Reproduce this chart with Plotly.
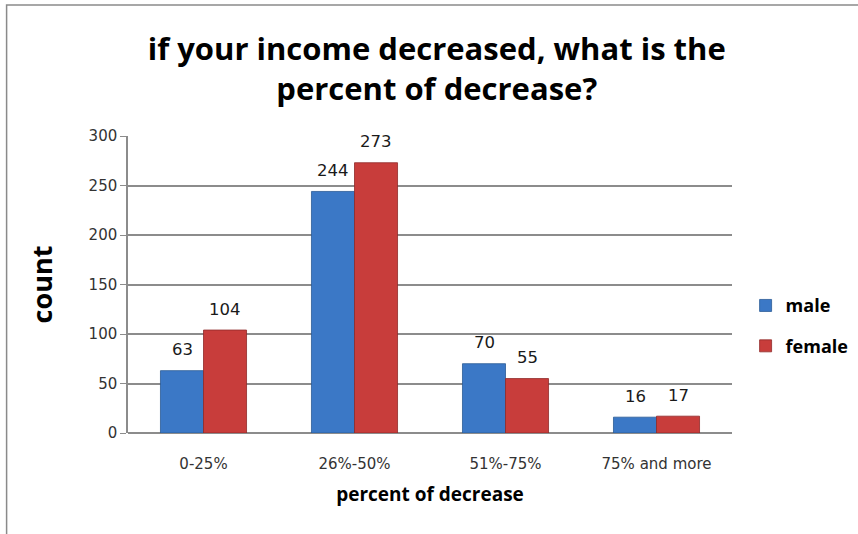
import plotly.graph_objects as go

categories = ["0-25%", "26%-50%", "51%-75%", "75% and more"]
male = [63, 244, 70, 16]
female = [104, 273, 55, 17]
series_names = ["male", "female"]
y_ticks = [0, 50, 100, 150, 200, 250, 300]

TFONT = "Open Sans, Lato, sans-serif"
NFONT = "DejaVu Sans, Verdana, sans-serif"
colors = ["#3b78c6", "#c83d3b"]
lines = ["#2a5a96", "#8f2a28"]

fig = go.Figure()
for name, vals, c, lc in zip(series_names, [male, female], colors, lines):
    fig.add_trace(go.Bar(
        x=categories, y=vals, name=name, legendgroup=name,
        marker=dict(color=c, line=dict(color=lc, width=0.8)),
    ))

# data labels
for i, (name, vals) in enumerate(zip(series_names, [male, female])):
    shift = -21.5 if i == 0 else 21.5
    for cat, v in zip(categories, vals):
        fig.add_annotation(x=cat, y=v, text=str(v), showarrow=False,
                           xshift=shift, yshift=21,
                           font=dict(family=NFONT, size=16.5, color="#1a1a1a"))

fig.add_shape(type="rect", xref="paper", yref="paper",
              x0=-0.201, x1=1.4, y0=-0.6, y1=1.441,
              line=dict(color="#8a8a8a", width=1.5), fillcolor="rgba(0,0,0,0)", layer="below")

fig.update_layout(
    width=858, height=534,
    margin=dict(l=128, r=126, t=136, b=101),
    paper_bgcolor="white", plot_bgcolor="white",
    barmode="group", bargap=0.43, bargroupgap=0,
    title=dict(text="if your income decreased, what is the<br>percent of decrease?",
               x=0.509, xref="container", xanchor="center", y=0.888, yanchor="middle",
               font=dict(family=TFONT, size=31, color="black", weight="bold")),
    font=dict(family=NFONT, color="#333333"),
    legend=dict(x=0.869, y=0.39, xref="container", yref="container",
                xanchor="left", yanchor="middle",
                font=dict(family=TFONT, size=18, color="black", weight="bold"),
                itemwidth=30, tracegroupgap=14, bgcolor="rgba(0,0,0,0)"),
    showlegend=True,
)
fig.update_xaxes(
    showgrid=False, showline=False, ticks="", ticklabelstandoff=20,
    tickfont=dict(family=NFONT, size=15, color="#333333"),
    title=dict(text="percent of decrease", standoff=15,
               font=dict(family=TFONT, size=19, color="black", weight="bold")),
)
fig.update_yaxes(
    range=[0, 300], tickvals=y_ticks, showgrid=True, gridcolor="#8c8c8c", gridwidth=1.5,
    showline=True, linecolor="#8c8c8c", linewidth=1.5, ticks="outside", ticklen=6,
    tickcolor="#8c8c8c", zeroline=True, zerolinecolor="#8c8c8c", zerolinewidth=1.5,
    tickfont=dict(family=NFONT, size=15, color="#333333"),
    title=dict(text="count", standoff=28,
               font=dict(family=TFONT, size=27, color="black", weight="bold")),
)

fig.write_html("out.html")
